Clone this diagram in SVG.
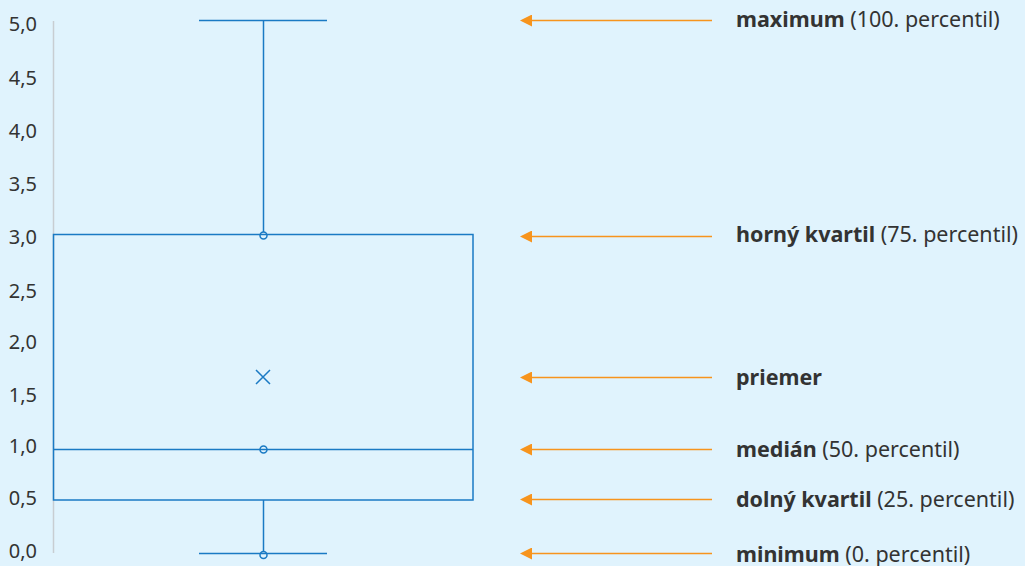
<svg xmlns="http://www.w3.org/2000/svg" width="1025" height="566" viewBox="0 0 1025 566">
<defs>
<style>
.ax{font-family:"Noto Sans","Open Sans",sans-serif;font-size:20px;fill:#333;text-anchor:end}
.lb{font-family:"Noto Sans","Open Sans",sans-serif;font-size:21.5px;fill:#333}
.b{font-weight:bold}
.bx{fill:none;stroke:#1a7ac4;stroke-width:1.5}
.arr{stroke:#f7941d;stroke-width:1.5;fill:none}
</style>
<marker id="ah" markerWidth="13" markerHeight="12" refX="1" refY="6" orient="auto" markerUnits="userSpaceOnUse">
<path d="M0,0 L12,6 L0,12 Z" fill="#f7941d"/>
</marker>
</defs>
<rect width="1025" height="566" fill="#e0f3fd"/>
<g id="axis">
<line x1="53.5" y1="21" x2="53.5" y2="553" stroke="#c8cdd2" stroke-width="1.5"/>
<text class="ax" x="37" y="30.5">5,0</text>
<text class="ax" x="37" y="84.5">4,5</text>
<text class="ax" x="37" y="137.5">4,0</text>
<text class="ax" x="37" y="190.5">3,5</text>
<text class="ax" x="37" y="243.5">3,0</text>
<text class="ax" x="37" y="297.5">2,5</text>
<text class="ax" x="37" y="348.5">2,0</text>
<text class="ax" x="37" y="401.5">1,5</text>
<text class="ax" x="37" y="452.5">1,0</text>
<text class="ax" x="37" y="504.5">0,5</text>
<text class="ax" x="37" y="557.5">0,0</text>
</g>
<g id="boxplot">
<line class="bx" x1="199" y1="20.5" x2="327" y2="20.5"/>
<line class="bx" x1="263.5" y1="20.5" x2="263.5" y2="232"/>
<rect class="bx" x="53.5" y="234.5" width="419.5" height="265.5"/>
<line class="bx" x1="53.5" y1="449.5" x2="473" y2="449.5"/>
<line class="bx" x1="263.5" y1="500" x2="263.5" y2="551"/>
<line class="bx" x1="199" y1="553.5" x2="327" y2="553.5"/>
<circle class="bx" cx="263.5" cy="235.5" r="3.5" fill="#e0f3fd"/>
<circle class="bx" cx="263.5" cy="449.5" r="3.5" fill="#e0f3fd"/>
<circle class="bx" cx="263.5" cy="555" r="3.5" fill="#e0f3fd"/>
<path class="bx" d="M256,370 L270,384 M270,370 L256,384"/>
</g>
<g id="connectors">
<line class="arr" x1="712" y1="20.5" x2="531" y2="20.5" marker-end="url(#ah)"/>
<line class="arr" x1="712" y1="236.5" x2="531" y2="236.5" marker-end="url(#ah)"/>
<line class="arr" x1="712" y1="377.5" x2="531" y2="377.5" marker-end="url(#ah)"/>
<line class="arr" x1="712" y1="449.5" x2="531" y2="449.5" marker-end="url(#ah)"/>
<line class="arr" x1="712" y1="499.5" x2="531" y2="499.5" marker-end="url(#ah)"/>
<line class="arr" x1="712" y1="553.5" x2="531" y2="553.5" marker-end="url(#ah)"/>
</g>
<g id="label-max"><text class="lb" x="736" y="27"><tspan class="b">maximum</tspan> (100. percentil)</text></g>
<g id="label-q3"><text class="lb" x="736" y="242"><tspan class="b">horný kvartil</tspan> (75. percentil)</text></g>
<g id="label-mean"><text class="lb" x="736" y="385"><tspan class="b">priemer</tspan></text></g>
<g id="label-median"><text class="lb" x="736" y="457"><tspan class="b">medián</tspan> (50. percentil)</text></g>
<g id="label-q1"><text class="lb" x="736" y="507"><tspan class="b">dolný kvartil</tspan> (25. percentil)</text></g>
<g id="label-min"><text class="lb" x="736" y="562"><tspan class="b">minimum</tspan> (0. percentil)</text></g>
</svg>
